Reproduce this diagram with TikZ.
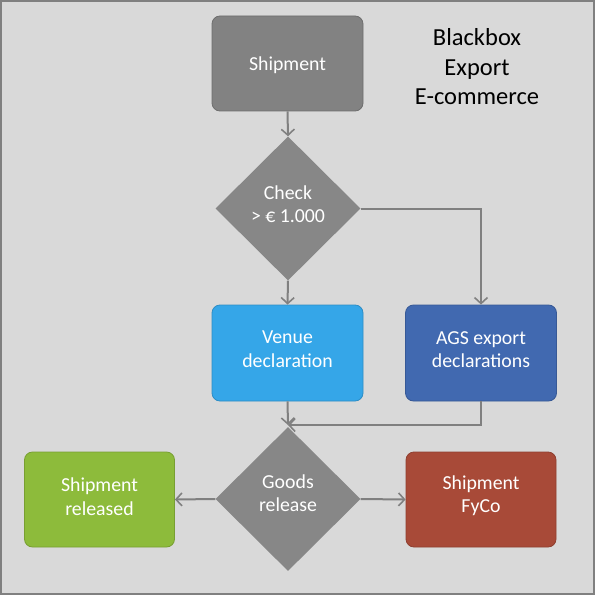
\documentclass[tikz,border=0pt]{standalone}
\usepackage{fontspec}
\setmainfont{Carlito}
\usetikzlibrary{shapes.geometric,arrows.meta}
\definecolor{bgc}{HTML}{D9D9D9}
\definecolor{framec}{HTML}{808080}
\definecolor{linec}{HTML}{808080}
\definecolor{grayfill}{HTML}{828282}
\definecolor{dgrayfill}{HTML}{878787}
\definecolor{venuec}{HTML}{35A6E8}
\definecolor{agsc}{HTML}{4169B0}
\definecolor{greenc}{HTML}{8DBB3B}
\definecolor{redc}{HTML}{A84A38}
\tikzset{
  boxstyle/.style={rectangle, rounded corners=8bp, minimum width=150bp, minimum height=95bp,
    inner sep=0pt, draw=#1!85!black, line width=0.8bp, fill=#1},
  diastyle/.style={diamond, aspect=1, minimum width=145bp, minimum height=144bp, inner sep=0pt,
    fill=dgrayfill, draw=none},
  lbl/.style={text=white, align=center, inner sep=0pt,
    font=\fontsize{19.8bp}{23.5bp}\selectfont},
  arr/.style={draw=linec, line width=2bp, -{Straight Barb[length=6bp,width=13bp,line width=1.6bp]}},
}
\begin{document}
\begin{tikzpicture}[x=1bp,y=-1bp]
\fill[bgc] (0,0) rectangle (595,595);
\useasboundingbox (0,0) rectangle (595,595);
\draw[framec, line width=1.6bp] (0.8,0.8) rectangle (594.2,594.2);

\node[boxstyle=grayfill, minimum width=151bp] (ship) at (287.5,63.5) {};
\node[diastyle] (check) at (288,208.5) {};
\node[boxstyle=venuec, minimum width=151bp, minimum height=96bp] (venue) at (287.5,353) {};
\node[boxstyle=agsc, minimum width=151bp, minimum height=96bp] (ags) at (481,353) {};
\node[diastyle] (goods) at (288,499) {};
\node[boxstyle=greenc] (rel) at (99.5,499.5) {};
\node[boxstyle=redc] (fyco) at (481,499.5) {};

\node[lbl] (ship-t) at (287.5,65.5) {Shipment};
\node[lbl] (check-t) at (288,204) {Check\\> € 1.000};
\node[lbl] (venue-t) at (287.5,349.2) {Venue\\declaration};
\node[lbl] (ags-t) at (481,349.7) {AGS export\\declarations};
\node[lbl] (goods-t) at (288,493) {Goods\\release};
\node[lbl] (rel-t) at (99.5,496.5) {Shipment\\released};
\node[lbl] (fyco-t) at (481,495.5) {Shipment\\FyCo};

\node[align=center, text=black, font=\fontsize{24.5bp}{29.5bp}\selectfont] (title) at (477,67) {Blackbox\\Export\\E-commerce};

\coordinate (merge) at (288,425);
\draw[arr] (ship.south) -- (check.north);
\draw[arr] (check.south) -- (venue.north);
\draw[arr] (check.east) -| (ags.north);
\draw[arr] (venue.south) -- (merge);
\draw[arr] (ags.south) |- (merge);
\draw[arr] (goods.west) -- (rel.east);
\draw[arr] (goods.east) -- (fyco.west);
\end{tikzpicture}
\end{document}
